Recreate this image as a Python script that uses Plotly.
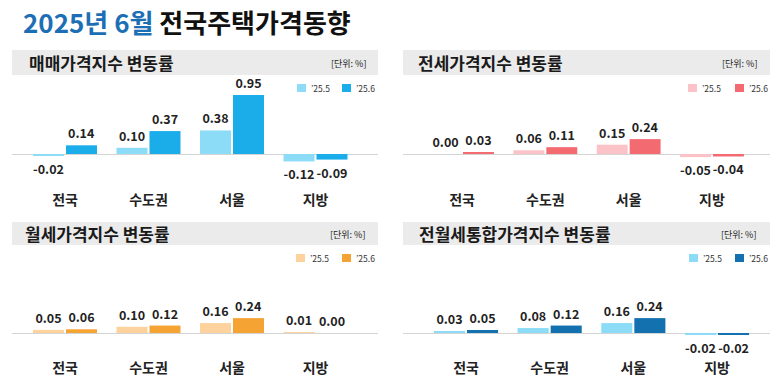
import plotly.graph_objects as go

W, H = 780, 378
FONT = "Noto Sans CJK KR"

# ---------------- data ----------------
categories = ["전국", "수도권", "서울", "지방"]
series_names = ["'25.5", "'25.6"]

titles = ["매매가격지수 변동률", "전세가격지수 변동률", "월세가격지수 변동률", "전월세통합가격지수 변동률"]

sale_255 = [-0.02, 0.10, 0.38, -0.12]
sale_256 = [0.14, 0.37, 0.95, -0.09]

jeonse_255 = [0.00, 0.06, 0.15, -0.05]
jeonse_256 = [0.03, 0.11, 0.24, -0.04]

monthly_255 = [0.05, 0.10, 0.16, 0.01]
monthly_256 = [0.06, 0.12, 0.24, 0.00]

combined_255 = [0.03, 0.08, 0.16, -0.02]
combined_256 = [0.05, 0.12, 0.24, -0.02]

panel_data = [
    (sale_255, sale_256),
    (jeonse_255, jeonse_256),
    (monthly_255, monthly_256),
    (combined_255, combined_256),
]

# ---------------- styles / layout ----------------
colors = [
    ("#8cdcf8", "#1badea"),
    ("#fbc3c7", "#f36a71"),
    ("#fdd29c", "#f5a333"),
    ("#8cdcf8", "#1271ae"),
]

PX_PER_UNIT = 62.0
panels = [
    dict(xl=12, xr=378, c0=65, step=83.5, base=154, top=82, bottom=190, hdr=(50, 75),
         tx=27, ux=368, lx=(297, 342), ly=88),
    dict(xl=403, xr=770, c0=462, step=83.33, base=154, top=82, bottom=190, hdr=(50, 75),
         tx=416, ux=759, lx=(688, 735), ly=88),
    dict(xl=12, xr=378, c0=65, step=83.5, base=333, top=268, bottom=358, hdr=(222, 245),
         tx=23, ux=367, lx=(296, 342), ly=258),
    dict(xl=403, xr=770, c0=466, step=83.67, base=333, top=268, bottom=358, hdr=(222, 245),
         tx=417, ux=758, lx=(689, 735), ly=258),
]


def px_x(x):
    return x / W


def px_y(y):
    return 1 - y / H


fig = go.Figure()
shapes = []
annotations = []

for i, (p, (s1, s2), (c1, c2), title) in enumerate(zip(panels, panel_data, colors, titles)):
    k = "" if i == 0 else str(i + 1)
    xa, ya = "x" + k, "y" + k
    for vals, col, nm in ((s1, c1, series_names[0]), (s2, c2, series_names[1])):
        fig.add_trace(go.Bar(
            x=categories, y=vals, name=nm, xaxis=xa, yaxis=ya,
            marker=dict(color=col, line=dict(width=0)),
            texttemplate="%{y:.2f}", textposition="outside", cliponaxis=False,
            constraintext="none",
            textfont=dict(family=FONT, size=12.5, color="#222222", weight="bold"),
            showlegend=False, hoverinfo="skip",
        ))
    xr0 = (p["xl"] - p["c0"]) / p["step"]
    xr1 = (p["xr"] - p["c0"]) / p["step"]
    ymin = -(p["bottom"] - p["base"]) / PX_PER_UNIT
    ymax = (p["base"] - p["top"]) / PX_PER_UNIT
    fig.update_layout(**{
        "xaxis" + k: dict(domain=[px_x(p["xl"]), px_x(p["xr"])], range=[xr0, xr1],
                          anchor=ya, showgrid=False, showline=False, ticks="",
                          tickfont=dict(family=FONT, size=14, color="#222222", weight="bold"),
                          fixedrange=True),
        "yaxis" + k: dict(domain=[px_y(p["bottom"]), px_y(p["top"])], range=[ymin, ymax],
                          anchor=xa, showgrid=False, showticklabels=False, zeroline=True,
                          zerolinecolor="#d4d4d4", zerolinewidth=1, fixedrange=True),
    })
    # header band
    h0, h1 = p["hdr"]
    shapes.append(dict(type="rect", xref="paper", yref="paper",
                       x0=px_x(p["xl"]), x1=px_x(p["xr"]), y0=px_y(h1), y1=px_y(h0),
                       fillcolor="#ebebeb", line=dict(width=0), layer="below"))
    annotations.append(dict(text=title, xref="paper", yref="paper", x=px_x(p["tx"]),
                            y=px_y((h0 + h1) / 2), xanchor="left", yanchor="middle",
                            showarrow=False,
                            font=dict(family=FONT, size=17, color="#1a1a1a", weight="bold")))
    annotations.append(dict(text="[단위: %]", xref="paper", yref="paper", x=px_x(p["ux"]),
                            y=px_y((h0 + h1) / 2 + 1), xanchor="right", yanchor="middle",
                            showarrow=False, font=dict(family=FONT, size=9, color="#222222")))
    # legend
    for lxx, col, nm in zip(p["lx"], (c1, c2), series_names):
        shapes.append(dict(type="rect", xref="paper", yref="paper",
                           x0=px_x(lxx), x1=px_x(lxx + 9),
                           y0=px_y(p["ly"] + 4), y1=px_y(p["ly"] - 4),
                           fillcolor=col, line=dict(width=0)))
        annotations.append(dict(text=nm.replace("'", "’"), xref="paper", yref="paper",
                                x=px_x(lxx + 12), y=px_y(p["ly"]), xanchor="left",
                                yanchor="middle", showarrow=False,
                                font=dict(family=FONT, size=8.5, color="#333333")))

# main title
annotations.append(dict(
    text="<span style='color:#1d6fb5'>2025년 6월</span> 전국주택가격동향",
    xref="paper", yref="paper", x=px_x(21), y=px_y(21), xanchor="left", yanchor="middle",
    showarrow=False, font=dict(family=FONT, size=26, color="#111111", weight="bold")))

fig.update_layout(
    width=W, height=H, margin=dict(l=0, r=0, t=0, b=0),
    paper_bgcolor="white", plot_bgcolor="rgba(0,0,0,0)",
    barmode="group", bargap=0.21, bargroupgap=0.06,
    shapes=shapes, annotations=annotations, showlegend=False,
)

fig.write_html("out.html", config={"displayModeBar": False},
               post_script="document.body.style.margin='0';document.body.style.overflow='hidden';")
